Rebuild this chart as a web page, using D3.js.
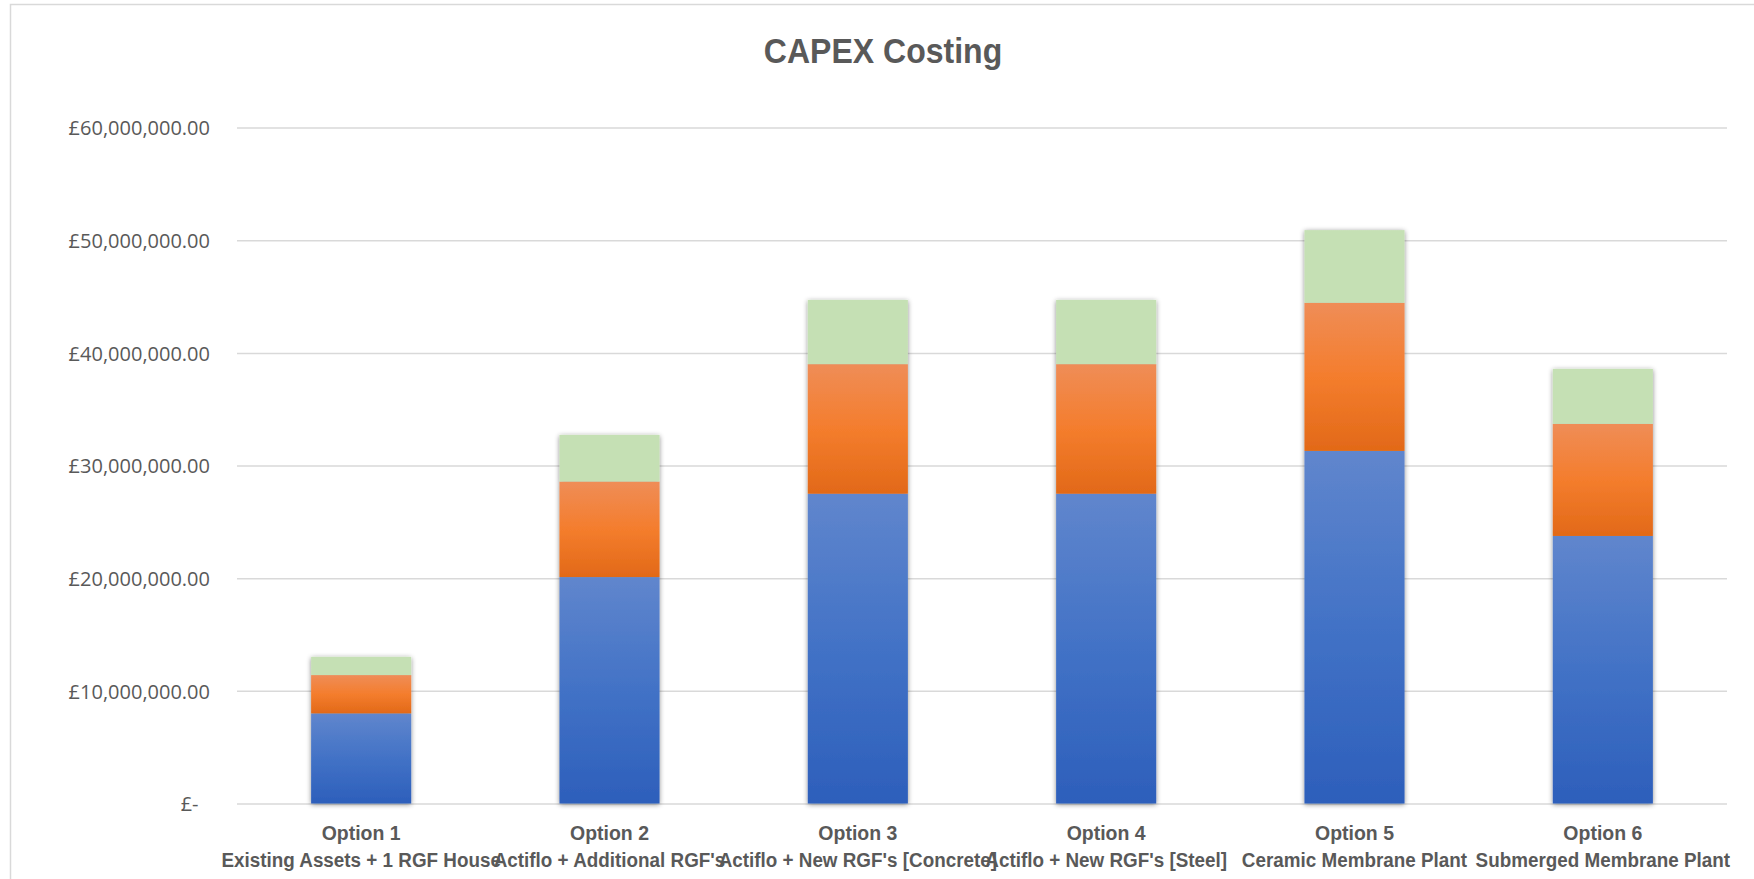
<!DOCTYPE html>
<html>

<head>
    <meta charset="utf-8">
    <style type="text/css">
        body {
            margin: 0;
            background: white;
        }

        svg text {
            fill: #595959;
        }
    </style>
    <title>CAPEX Costing</title>
</head>

<body>
    <script src="https://cdn.jsdelivr.net/npm/d3@7"></script>
    <script>
        // Chart data (values in £)
        var options = ["Option 1", "Option 2", "Option 3", "Option 4", "Option 5", "Option 6"]
        var descriptions = [
            "Existing Assets + 1 RGF House",
            "Actiflo + Additional RGF's",
            "Actiflo + New RGF's [Concrete]",
            "Actiflo + New RGF's [Steel]",
            "Ceramic Membrane Plant",
            "Submerged Membrane Plant"
        ]
        var seriesNames = ["Cost 1", "Cost 2", "Cost 3"]
        var series1 = [8000000, 20100000, 27500000, 27500000, 31300000, 23750000]
        var series2 = [3400000, 8480000, 11500000, 11500000, 13150000, 9950000]
        var series3 = [1620000, 4140000, 5700000, 5700000, 6450000, 4880000]
        var yTicks = [0, 10000000, 20000000, 30000000, 40000000, 50000000, 60000000]

        var width = 1754,
            height = 879,
            plotLeft = 237,
            plotRight = 1727,
            plotTop = 127.6,
            plotBottom = 803.5

        var rows = options.map((o, i) => ({
            option: o,
            desc: descriptions[i],
            s0: series1[i],
            s1: series2[i],
            s2: series3[i]
        }))

        var stack = d3.stack().keys(["s0", "s1", "s2"])(rows)

        var svg = d3.select("body").append("svg")
            .attr("width", width)
            .attr("height", height)

        // gradients + shadow
        var defs = svg.append("defs")
        var gradStops = [
            [["0%", "#6086cd"], ["50%", "#4272c6"], ["100%", "#2d5fbb"]],
            [["0%", "#ef8d57"], ["50%", "#f47d2d"], ["100%", "#e26918"]],
            [["0%", "#c5e0b4"], ["100%", "#c5e0b4"]]
        ]
        gradStops.forEach((stops, i) => {
            var g = defs.append("linearGradient")
                .attr("id", "grad" + i)
                .attr("x1", 0).attr("y1", 0)
                .attr("x2", 0).attr("y2", 1)
            stops.forEach(s => g.append("stop").attr("offset", s[0]).attr("stop-color", s[1]))
        })
        defs.append("filter")
            .attr("id", "shadow")
            .attr("x", "-20%").attr("y", "-10%")
            .attr("width", "140%").attr("height", "120%")
            .append("feDropShadow")
            .attr("dx", 0).attr("dy", 1)
            .attr("stdDeviation", 2.5)
            .attr("flood-color", "#000")
            .attr("flood-opacity", 0.45)

        // chart frame
        svg.append("rect")
            .attr("x", 10.5)
            .attr("y", 4.5)
            .attr("width", 1800)
            .attr("height", 1000)
            .attr("fill", "white")
            .attr("stroke", "#d9d9d9")
            .attr("stroke-width", 1.5)

        var xScale = d3.scaleBand()
            .domain(options)
            .range([plotLeft, plotRight])
            .paddingInner(0.597)
            .paddingOuter(0.2985)

        var yScale = d3.scaleLinear()
            .domain([0, 60000000])
            .range([plotBottom, plotTop])

        var fmt = d3.format(",.2f")

        // y axis with gridlines
        var yAxis = svg.append("g")
            .attr("transform", `translate(${plotLeft},0)`)
            .call(d3.axisLeft(yScale)
                .tickValues(yTicks)
                .tickSize(-(plotRight - plotLeft))
                .tickPadding(27)
                .tickFormat(d => d === 0 ? "£-\u2007" : "£" + fmt(d)))
        yAxis.select(".domain").remove()
        yAxis.selectAll("line")
            .attr("stroke", "#d9d9d9")
            .attr("stroke-width", 1.5)
        yAxis.selectAll("text")
            .attr("font-family", "'Open Sans', sans-serif")
            .attr("font-size", 20)
            .attr("dy", "0.36em")
            .style("fill", "#595959")

        // stacked bars
        var barGroups = svg.selectAll(".bar")
            .data(rows.map((r, i) => i))
            .enter().append("g")
            .attr("class", "bar")
            .attr("filter", "url(#shadow)")

        barGroups.selectAll("rect")
            .data(i => stack.map((layer, k) => ({ k: k, d: layer[i] })))
            .enter().append("rect")
            .attr("x", d => xScale(d.d.data.option))
            .attr("width", xScale.bandwidth())
            .attr("y", d => yScale(d.d[1]))
            .attr("height", d => yScale(d.d[0]) - yScale(d.d[1]))
            .attr("fill", d => `url(#grad${d.k})`)

        // category labels
        var labels = svg.selectAll(".xlabel")
            .data(rows)
            .enter().append("g")
            .attr("class", "xlabel")
            .attr("font-family", "'Liberation Sans', Arial, sans-serif")
            .attr("font-weight", "bold")
            .attr("font-size", 20.5)
            .attr("text-anchor", "middle")

        labels.append("text")
            .attr("transform", d => `translate(${xScale(d.option) + xScale.bandwidth() / 2},840) scale(0.95,1)`)
            .text(d => d.option)

        labels.append("text")
            .attr("transform", d => `translate(${xScale(d.option) + xScale.bandwidth() / 2},866.7) scale(0.92,1)`)
            .text(d => d.desc)

        // title
        svg.append("text")
            .attr("transform", "translate(883,63) scale(0.89,1)")
            .attr("text-anchor", "middle")
            .attr("font-family", "'Liberation Sans', Arial, sans-serif")
            .attr("font-weight", "bold")
            .attr("font-size", 36)
            .text("CAPEX Costing")
    </script>
</body>

</html>
